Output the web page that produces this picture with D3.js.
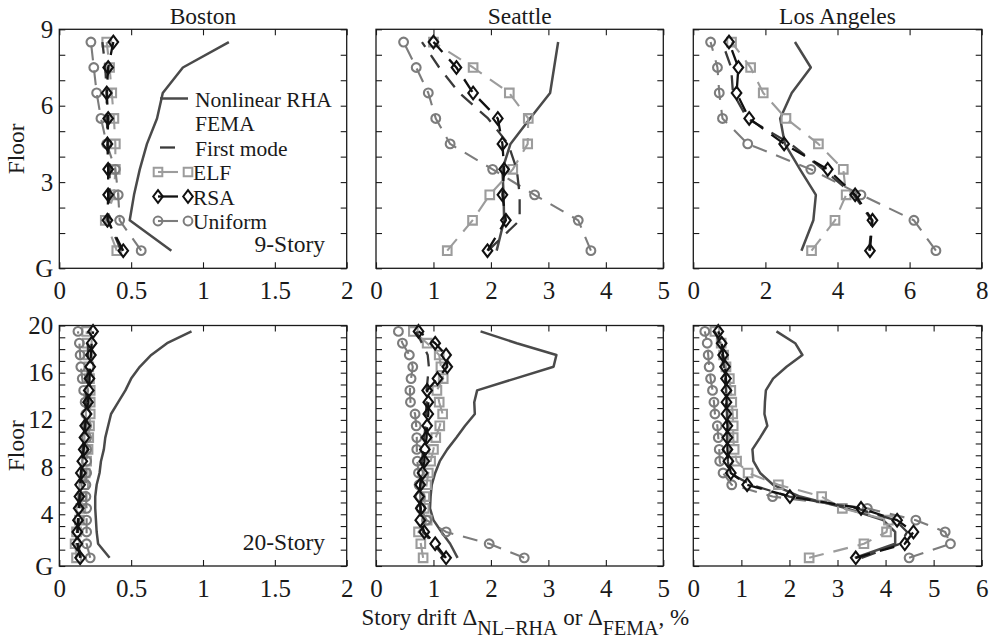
<!DOCTYPE html>
<html><head><meta charset="utf-8">
<script src="https://cdn.jsdelivr.net/npm/d3@7"></script>
<style>
body{margin:0;background:#fff}
svg{display:block}
text{font-family:"Liberation Serif","Times New Roman",serif;fill:#1a1a1a}
</style>
</head><body><svg id="c" width="994" height="638"></svg>
<script>
// ---------------- DATA ----------------
const cities = ["Boston", "Seattle", "Los Angeles"];
// story mid-heights (ft) and floor levels (ft); first story 18 ft, others 13 ft
const storyMid9 = [9, 24.5, 37.5, 50.5, 63.5, 76.5, 89.5, 102.5, 115.5];
const floorLevels9 = [0, 18, 31, 44, 57, 70, 83, 96, 109, 122];
const floorLabels9 = ["G", "", "", "3", "", "", "6", "", "", "9"];
const storyMid20 = [9, 24.5, 37.5, 50.5, 63.5, 76.5, 89.5, 102.5, 115.5, 128.5, 141.5, 154.5, 167.5, 180.5, 193.5, 206.5, 219.5, 232.5, 245.5, 258.5];
const floorLevels20 = [0, 18, 31, 44, 57, 70, 83, 96, 109, 122, 135, 148, 161, 174, 187, 200, 213, 226, 239, 252, 265];
const floorLabels20 = ["G", "", "", "", "4", "", "", "", "8", "", "", "", "12", "", "", "", "16", "", "", "", "20"];

const xMaxTop = [2, 5, 8];
const xMaxBot = [2, 5, 6];
const xTicksTop = [[0, 0.5, 1, 1.5, 2], [0, 1, 2, 3, 4, 5], [0, 2, 4, 6, 8]];
const xTicksBot = [[0, 0.5, 1, 1.5, 2], [0, 1, 2, 3, 4, 5], [0, 1, 2, 3, 4, 5, 6]];

// 9-story, story 1 -> 9, drift %
const nlBos9  = [0.78, 0.49, 0.52, 0.56, 0.61, 0.68, 0.72, 0.86, 1.18];
const fmBos9  = [0.43, 0.34, 0.35, 0.35, 0.34, 0.33, 0.33, 0.32, 0.30];
const elfBos9 = [0.40, 0.32, 0.38, 0.39, 0.39, 0.38, 0.365, 0.35, 0.33];
const rsaBos9 = [0.445, 0.335, 0.34, 0.34, 0.335, 0.34, 0.33, 0.34, 0.376];
const uniBos9 = [0.57, 0.42, 0.41, 0.39, 0.33, 0.29, 0.26, 0.24, 0.22];

const nlSea9  = [2.10, 2.23, 2.22, 2.20, 2.34, 2.68, 3.03, 3.10, 3.17];
const fmSea9  = [1.95, 2.50, 2.50, 2.45, 2.30, 1.95, 1.45, 1.10, 0.80];
const elfSea9 = [1.24, 1.68, 1.98, 2.38, 2.64, 2.65, 2.32, 1.69, 1.00];
const rsaSea9 = [1.94, 2.26, 2.20, 2.23, 2.20, 2.12, 1.69, 1.40, 1.00];
const uniSea9 = [3.74, 3.52, 2.76, 2.03, 1.29, 1.04, 0.91, 0.70, 0.48];

const nlLA9  = [3.00, 3.33, 3.40, 2.96, 2.54, 2.41, 2.73, 3.26, 2.82];
const fmLA9  = [4.88, 4.95, 4.45, 3.60, 2.70, 1.50, 1.10, 1.05, 0.80];
const elfLA9 = [3.28, 3.93, 4.24, 4.16, 3.47, 2.57, 1.94, 1.59, 1.06];
const rsaLA9 = [4.90, 4.97, 4.49, 3.73, 2.52, 1.55, 1.20, 1.25, 0.99];
const uniLA9 = [6.73, 6.12, 4.65, 3.26, 1.51, 0.81, 0.72, 0.67, 0.48];

// 20-story, story 1 -> 20, drift %
const nlBos20  = [0.35, 0.27, 0.26, 0.255, 0.25, 0.25, 0.26, 0.28, 0.29, 0.31, 0.32, 0.34, 0.36, 0.41, 0.46, 0.50, 0.56, 0.64, 0.75, 0.92];
const fmBos20  = [0.15, 0.13, 0.13, 0.135, 0.14, 0.145, 0.15, 0.155, 0.16, 0.165, 0.17, 0.175, 0.18, 0.185, 0.19, 0.195, 0.2, 0.2, 0.2, 0.2];
const elfBos20 = [0.12, 0.11, 0.12, 0.14, 0.15, 0.16, 0.17, 0.18, 0.19, 0.2, 0.205, 0.21, 0.215, 0.215, 0.215, 0.21, 0.205, 0.2, 0.195, 0.19];
const rsaBos20 = [0.145, 0.125, 0.125, 0.13, 0.135, 0.14, 0.145, 0.15, 0.16, 0.17, 0.175, 0.18, 0.19, 0.2, 0.205, 0.21, 0.215, 0.22, 0.225, 0.235];
const uniBos20 = [0.215, 0.19, 0.19, 0.19, 0.19, 0.185, 0.185, 0.19, 0.19, 0.19, 0.19, 0.19, 0.185, 0.18, 0.17, 0.16, 0.15, 0.145, 0.14, 0.13];

const nlSea20  = [1.42, 1.29, 1.14, 1.00, 0.94, 0.95, 0.97, 1.03, 1.11, 1.24, 1.40, 1.55, 1.72, 1.71, 1.76, 2.42, 3.09, 3.14, 2.45, 1.82];
const fmSea20  = [1.20, 1.00, 0.82, 0.78, 0.77, 0.76, 0.77, 0.79, 0.80, 0.82, 0.84, 0.86, 0.87, 0.88, 0.88, 0.90, 0.92, 0.90, 0.80, 0.70];
const elfSea20 = [0.82, 0.78, 0.74, 0.89, 0.84, 0.85, 0.88, 0.91, 0.95, 1.00, 1.04, 1.11, 1.16, 1.10, 1.06, 1.17, 1.13, 1.10, 0.89, 0.65];
const rsaSea20 = [1.22, 1.03, 0.84, 0.77, 0.78, 0.75, 0.77, 0.81, 0.84, 0.85, 0.88, 0.89, 0.91, 0.91, 0.89, 1.07, 1.24, 1.22, 1.03, 0.74];
const uniSea20 = [2.58, 1.97, 1.22, 0.88, 0.78, 0.77, 0.75, 0.74, 0.72, 0.71, 0.71, 0.70, 0.68, 0.60, 0.59, 0.61, 0.64, 0.58, 0.46, 0.39];

const nlLA20  = [3.36, 4.20, 4.20, 3.95, 3.19, 2.22, 1.66, 1.39, 1.25, 1.23, 1.39, 1.54, 1.48, 1.49, 1.51, 1.66, 1.94, 2.27, 2.12, 1.73];
const fmLA20  = [3.50, 4.30, 4.45, 4.20, 3.40, 2.00, 1.20, 0.75, 0.72, 0.70, 0.70, 0.70, 0.70, 0.68, 0.68, 0.66, 0.64, 0.60, 0.55, 0.45];
const elfLA20 = [2.41, 3.55, 4.02, 4.06, 3.10, 2.67, 1.77, 1.14, 0.90, 0.85, 0.83, 0.83, 0.82, 0.80, 0.78, 0.75, 0.68, 0.63, 0.58, 0.45];
const rsaLA20 = [3.38, 4.40, 4.58, 4.24, 3.49, 2.01, 1.12, 0.78, 0.73, 0.71, 0.71, 0.71, 0.69, 0.69, 0.69, 0.68, 0.66, 0.62, 0.59, 0.52];
const uniLA20 = [4.49, 5.35, 5.24, 4.63, 3.62, 1.65, 0.80, 0.62, 0.55, 0.54, 0.52, 0.50, 0.45, 0.43, 0.40, 0.36, 0.33, 0.31, 0.29, 0.24];

const legendLabels = ["Nonlinear RHA", "FEMA", "First mode", "ELF", "RSA", "Uniform"];
const storyLabels = ["9-Story", "20-Story"];

// ---------------- LAYOUT / STYLE ----------------
const colX = [[59.3, 346.7], [376, 663.3], [693.3, 981.7]];
const rowY = [[29.3, 268.3], [325.5, 566]];
const DASH = "15,10";
const sty = {
  nl:  {color: "#4a4a4a", width: 2.5, dash: null, marker: null},
  elf: {color: "#9c9c9c", width: 2.1, dash: DASH, marker: "square"},
  uni: {color: "#7c7c7c", width: 2.1, dash: DASH, marker: "circle"},
  fm:  {color: "#3a3a3a", width: 2.3, dash: DASH, marker: null},
  rsa: {color: "#111111", width: 2.3, dash: DASH, marker: "diamond"}
};
const order = ["nl", "elf", "uni", "fm", "rsa"];

function markerPath(type) {
  if (type === "square") return "M-4.3,-4.3H4.3V4.3H-4.3Z";
  if (type === "diamond") return "M0,-6.3L4.8,0L0,6.3L-4.8,0Z";
  return "M4.4,0A4.4,4.4 0 1,1 -4.4,0A4.4,4.4 0 1,1 4.4,0Z";
}

const svg = d3.select("#c");

const panelData = [
  [ {nl: nlBos9, fm: fmBos9, elf: elfBos9, rsa: rsaBos9, uni: uniBos9},
    {nl: nlSea9, fm: fmSea9, elf: elfSea9, rsa: rsaSea9, uni: uniSea9},
    {nl: nlLA9, fm: fmLA9, elf: elfLA9, rsa: rsaLA9, uni: uniLA9} ],
  [ {nl: nlBos20, fm: fmBos20, elf: elfBos20, rsa: rsaBos20, uni: uniBos20},
    {nl: nlSea20, fm: fmSea20, elf: elfSea20, rsa: rsaSea20, uni: uniSea20},
    {nl: nlLA20, fm: fmLA20, elf: elfLA20, rsa: rsaLA20, uni: uniLA20} ]
];

for (let r = 0; r < 2; r++) {
  const levels = r === 0 ? storyMid9 : storyMid20;
  const floors = r === 0 ? floorLevels9 : floorLevels20;
  const flabels = r === 0 ? floorLabels9 : floorLabels20;
  for (let c = 0; c < 3; c++) {
    const xMax = r === 0 ? xMaxTop[c] : xMaxBot[c];
    const xt = r === 0 ? xTicksTop[c] : xTicksBot[c];
    const x = d3.scaleLinear().domain([0, xMax]).range(colX[c]);
    const y = d3.scaleLinear().domain([0, floors[floors.length - 1]]).range([rowY[r][1], rowY[r][0]]);
    const g = svg.append("g");

    // axes (inward ticks on all four sides)
    const axB = g.append("g").attr("transform", `translate(0,${rowY[r][1]})`)
      .call(d3.axisBottom(x).tickValues(xt).tickSizeInner(-6).tickSizeOuter(0).tickPadding(13)
        .tickFormat(d => String(d)));
    const axT = g.append("g").attr("transform", `translate(0,${rowY[r][0]})`)
      .call(d3.axisTop(x).tickValues(xt).tickSizeInner(-6).tickSizeOuter(0).tickFormat(""));
    const axL = g.append("g").attr("transform", `translate(${colX[c][0]},0)`)
      .call(d3.axisLeft(y).tickValues(floors).tickSizeInner(-6).tickSizeOuter(0).tickPadding(6)
        .tickFormat((d, i) => c === 0 ? flabels[i] : ""));
    const axR = g.append("g").attr("transform", `translate(${colX[c][1]},0)`)
      .call(d3.axisRight(y).tickValues(floors).tickSizeInner(-6).tickSizeOuter(0).tickFormat(""));
    [axB, axT, axL, axR].forEach(a => {
      a.select(".domain").remove();
      a.selectAll("line").attr("stroke", "#1a1a1a").attr("stroke-width", 1.1);
      a.selectAll("text").attr("font-size", 25).attr("font-family", '"Liberation Serif",serif').attr("fill", "#1a1a1a");
    });

    // series
    const ser = panelData[r][c];
    order.forEach(k => {
      const s = sty[k];
      const vals = ser[k];
      const pts = vals.map((v, i) => [x(v), y(levels[i])]);
      g.append("path").attr("d", d3.line()(pts))
        .attr("fill", "none").attr("stroke", s.color).attr("stroke-width", s.width)
        .attr("stroke-dasharray", s.dash).attr("stroke-linejoin", "round");
      if (s.marker) {
        g.selectAll(null).data(pts).enter().append("path")
          .attr("d", markerPath(s.marker))
          .attr("transform", p => `translate(${p[0]},${p[1]})`)
          .attr("fill", "none").attr("stroke", s.color).attr("stroke-width", 2.1);
      }
    });

    // box
    g.append("rect").attr("x", colX[c][0]).attr("y", rowY[r][0])
      .attr("width", colX[c][1] - colX[c][0]).attr("height", rowY[r][1] - rowY[r][0])
      .attr("fill", "none").attr("stroke", "#1a1a1a").attr("stroke-width", 1.3);

    if (r === 0) {
      g.append("text").attr("x", (colX[c][0] + colX[c][1]) / 2).attr("y", 24)
        .attr("text-anchor", "middle").attr("font-size", 23.5).text(cities[c]);
    }
    if (c === 0) {
      const cy = (rowY[r][0] + rowY[r][1]) / 2;
      g.append("text").attr("transform", `translate(24,${cy}) rotate(-90)`)
        .attr("text-anchor", "middle").attr("font-size", 23.5).text("Floor");
      g.append("text").attr("x", 325).attr("y", rowY[r][1] - 16.5)
        .attr("text-anchor", "end").attr("font-size", 23.5).text(storyLabels[r]);
    }
  }
}

// ---------------- LEGEND (Boston 9-story) ----------------
const lg = svg.append("g");
const ly = [98.5, 123, 147.5, 172, 196.5, 221];
lg.append("line").attr("x1", 160).attr("x2", 188).attr("y1", ly[0]).attr("y2", ly[0])
  .attr("stroke", sty.nl.color).attr("stroke-width", sty.nl.width);
lg.append("line").attr("x1", 160).attr("x2", 175).attr("y1", ly[2]).attr("y2", ly[2])
  .attr("stroke", sty.fm.color).attr("stroke-width", sty.fm.width);
[["elf", 3], ["rsa", 4], ["uni", 5]].forEach(([k, i]) => {
  const s = sty[k];
  lg.append("line").attr("x1", 158).attr("x2", 178).attr("y1", ly[i]).attr("y2", ly[i])
    .attr("stroke", s.color).attr("stroke-width", s.width);
  [158, 188].forEach(px => {
    lg.append("path").attr("d", markerPath(s.marker)).attr("transform", `translate(${px},${ly[i]})`)
      .attr("fill", "none").attr("stroke", s.color).attr("stroke-width", 2);
  });
});
legendLabels.forEach((t, i) => {
  lg.append("text").attr("x", i >= 3 ? 193 : 195).attr("y", ly[i] + 8)
    .attr("font-size", 21.5).text(t);
});

// ---------------- X LABEL ----------------
const xl = svg.append("text").attr("x", 361.5).attr("y", 625).attr("font-size", 23);
xl.append("tspan").text("Story drift \u0394");
xl.append("tspan").attr("dy", 10).attr("font-size", 20).text("NL\u2212RHA");
xl.append("tspan").attr("dy", -10).text(" or \u0394");
xl.append("tspan").attr("dy", 10).attr("font-size", 20).text("FEMA");
xl.append("tspan").attr("dy", -10).text(", %");
</script>
</body></html>
